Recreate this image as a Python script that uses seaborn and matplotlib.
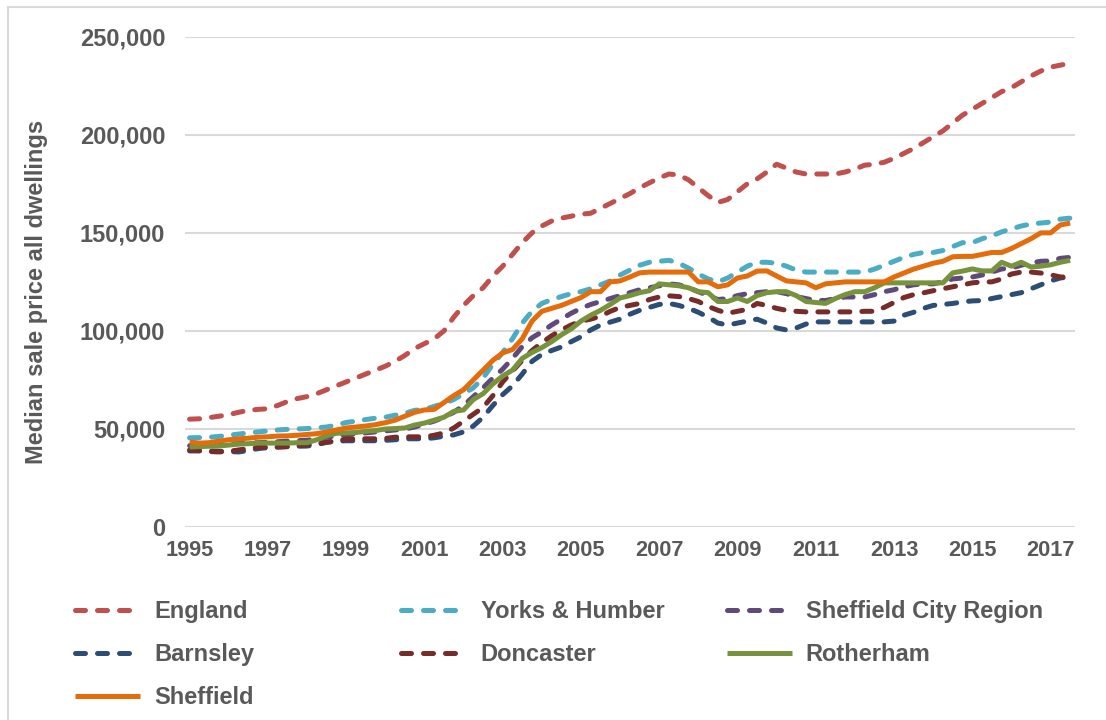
import numpy as np
import pandas as pd
import matplotlib
matplotlib.use("Agg")
import matplotlib.pyplot as plt
from matplotlib.patches import Rectangle
import seaborn as sns

# quarterly median prices (GBP thousands), 1995 Q1 .. 2017 Q3
england = [55.0, 55.2, 55.8, 56.5, 57.3, 58.5, 59.5, 60.0, 60.3, 62.0, 64.0, 65.5,
           66.5, 68.0, 70.0, 72.0, 74.0, 76.0, 78.0, 80.0, 82.0, 84.5, 87.5, 91.0,
           93.5, 96.0, 100.0, 107.0, 113.0, 118.0, 122.0, 128.0, 133.0, 139.0, 145.0, 150.0,
           153.5, 156.0, 157.5, 158.5, 159.5, 160.0, 162.5, 165.0, 167.5, 170.0, 173.0, 175.5,
           178.0, 180.0, 179.5, 177.0, 173.0, 169.0, 165.5, 167.0, 171.0, 175.0, 177.5, 181.0,
           185.0, 183.0, 181.0, 180.0, 180.0, 180.0, 180.0, 181.0, 182.5, 184.5, 185.0, 186.0,
           188.0, 190.5, 193.0, 196.0, 199.0, 202.0, 206.0, 210.0, 213.0, 216.0, 219.0, 222.0,
           224.0, 227.0, 230.0, 232.5, 234.5, 235.5, 236.5]
yorks = [45.5, 45.6, 45.8, 46.2, 46.8, 47.4, 48.0, 48.5, 49.0, 49.5, 49.8, 50.0,
         50.2, 50.6, 51.0, 52.0, 53.3, 54.0, 54.8, 55.5, 56.0, 57.0, 58.0, 59.5,
         60.0, 61.5, 63.0, 65.0, 68.0, 71.0, 76.0, 83.0, 89.0, 96.0, 104.0, 110.0,
         114.0, 116.0, 117.5, 119.0, 120.0, 121.5, 123.5, 125.5, 128.5, 131.0, 133.5, 135.0,
         135.5, 136.0, 134.5, 132.0, 129.0, 126.5, 125.0, 127.0, 130.0, 133.0, 135.0, 135.0,
         134.5, 133.0, 131.0, 130.0, 130.0, 130.0, 130.0, 130.0, 130.0, 130.0, 131.5, 133.5,
         135.5, 137.5, 139.0, 140.0, 140.0, 141.0, 143.0, 145.0, 145.0, 147.0, 148.5, 150.5,
         152.0, 153.5, 154.5, 155.0, 155.5, 157.0, 157.5]
scr = [41.5, 41.5, 41.8, 42.0, 42.3, 42.5, 42.8, 43.0, 43.2, 43.5, 43.8, 44.0,
       44.3, 45.0, 45.8, 46.5, 47.0, 47.5, 48.0, 48.5, 49.0, 49.5, 50.0, 51.0,
       52.5, 54.0, 56.0, 58.5, 62.0, 66.5, 71.0, 76.0, 80.5, 86.0, 92.0, 96.5,
       99.5, 103.0, 106.0, 109.0, 111.5, 113.5, 115.0, 116.5, 118.0, 119.5, 121.0, 122.0,
       123.0, 124.0, 123.5, 122.0, 120.0, 118.0, 116.0, 116.5, 118.0, 119.0, 119.5, 120.0,
       120.0, 119.0, 117.5, 116.5, 115.5, 115.5, 116.5, 117.3, 117.3, 117.3, 118.5, 120.0,
       121.0, 122.5, 123.5, 124.0, 124.0, 125.0, 126.5, 127.0, 127.5, 128.5, 130.0, 131.6,
       132.0, 133.5, 134.7, 135.5, 135.7, 137.0, 137.5]
barnsley = [38.8, 38.8, 38.8, 38.6, 38.5, 38.3, 39.0, 40.0, 40.5, 40.8, 41.0, 41.2,
            41.3, 42.0, 43.2, 43.8, 44.0, 44.0, 44.0, 44.0, 44.2, 44.5, 45.0, 45.0,
            45.0, 45.5, 46.3, 47.0, 48.5, 51.5, 56.0, 62.0, 67.5, 72.0, 78.0, 84.5,
            88.0, 90.0, 91.8, 94.5, 97.0, 100.5, 103.0, 104.5, 106.0, 108.5, 110.5, 112.0,
            113.5, 114.0, 113.0, 111.5, 109.5, 107.0, 104.0, 103.0, 104.0, 105.0, 106.0, 104.0,
            101.5, 100.5, 101.5, 103.5, 104.6, 104.6, 104.6, 104.6, 104.6, 104.6, 104.6, 104.6,
            105.0, 108.0, 109.5, 111.5, 113.0, 113.5, 114.0, 114.8, 115.3, 115.5, 116.5, 117.5,
            118.5, 119.5, 121.5, 123.5, 125.5, 127.0, 127.5]
doncaster = [39.3, 39.0, 38.5, 38.3, 38.6, 39.3, 40.0, 40.6, 40.8, 40.8, 41.0, 41.5,
             42.0, 42.6, 43.2, 44.0, 44.8, 45.0, 45.0, 45.0, 45.2, 45.8, 46.0, 46.0,
             46.0, 46.8, 48.0, 50.5, 54.0, 57.5, 61.0, 67.0, 74.0, 79.5, 85.0, 90.0,
             94.0, 97.5, 100.5, 103.0, 105.0, 106.0, 107.5, 110.0, 112.0, 113.0, 114.0, 116.0,
             117.3, 117.9, 117.5, 116.5, 115.0, 112.5, 110.5, 109.0, 110.0, 111.0, 114.0, 113.0,
             111.5, 110.5, 110.0, 109.7, 109.7, 109.7, 109.7, 109.7, 109.7, 110.0, 110.0, 112.0,
             114.5, 117.0, 118.5, 119.4, 120.5, 121.5, 122.5, 123.5, 124.5, 125.0, 125.0, 126.5,
             129.0, 130.0, 130.0, 129.5, 128.6, 127.5, 127.5]
rotherham = [40.8, 41.0, 41.2, 41.3, 41.8, 42.3, 42.5, 42.8, 42.8, 42.8, 42.8, 43.0,
             43.0, 44.5, 46.5, 47.8, 48.0, 48.2, 48.8, 49.2, 50.0, 50.2, 50.5, 52.0,
             53.0, 54.5, 56.0, 59.0, 59.7, 65.0, 68.0, 73.0, 77.0, 80.0, 86.0, 89.0,
             91.5, 94.5, 98.0, 101.0, 105.0, 108.0, 110.5, 113.5, 116.8, 118.0, 119.5, 120.5,
             124.0, 123.5, 123.0, 122.0, 120.0, 119.5, 115.0, 115.0, 116.8, 115.0, 118.0, 119.5,
             120.0, 120.0, 118.0, 115.0, 114.5, 114.0, 116.5, 118.5, 120.0, 120.0, 122.0, 124.5,
             124.5, 124.5, 124.5, 124.5, 124.5, 124.5, 129.6, 130.5, 131.6, 130.6, 130.6, 135.0,
             133.0, 135.0, 132.6, 133.0, 133.7, 135.0, 136.0]
sheffield = [43.4, 42.8, 43.0, 43.8, 44.5, 45.0, 45.3, 45.8, 46.0, 46.4, 46.5, 46.8,
             47.2, 47.6, 48.5, 49.5, 50.5, 51.0, 51.5, 52.2, 53.2, 54.5, 56.5, 58.5,
             59.7, 60.0, 63.5, 67.0, 70.0, 75.0, 80.0, 85.0, 88.8, 90.5, 96.0, 105.0,
             110.0, 111.5, 113.0, 115.0, 117.0, 120.0, 120.0, 125.0, 125.5, 127.5, 129.6, 130.0,
             130.0, 130.0, 130.0, 130.0, 125.0, 125.0, 122.5, 123.5, 127.0, 128.0, 130.5, 130.6,
             128.0, 125.5, 125.0, 124.5, 122.0, 124.0, 124.5, 125.0, 125.0, 125.0, 125.0, 125.0,
             127.5, 129.5, 131.5, 133.0, 134.5, 135.5, 137.8, 138.0, 138.0, 139.0, 140.0, 140.0,
             142.0, 144.5, 147.0, 150.0, 150.0, 154.0, 155.0]

series = {
    "England": england,
    "Yorks & Humber": yorks,
    "Sheffield City Region": scr,
    "Barnsley": barnsley,
    "Doncaster": doncaster,
    "Rotherham": rotherham,
    "Sheffield": sheffield,
}
colors = {
    "England": "#C0504D",
    "Yorks & Humber": "#4BACC6",
    "Sheffield City Region": "#604A7B",
    "Barnsley": "#2C4D75",
    "Doncaster": "#772C2A",
    "Rotherham": "#77933C",
    "Sheffield": "#E46C0A",
}
solid = ["Rotherham", "Sheffield"]
year_ticks = list(range(1995, 2018, 2))

n = len(england)
x = 1995 + np.arange(n) / 4

sns.set_theme(style="white")
plt.rcParams["font.family"] = ["Liberation Sans", "DejaVu Sans"]
grey = "#595959"

fig = plt.figure(figsize=(11.06, 7.2), dpi=100)
ax = fig.add_axes([0.167, 0.268, 0.805, 0.681])

for name, vals in series.items():
    df = pd.DataFrame({"x": x, "y": np.array(vals) * 1000})
    if name in solid:
        ls = "-"
    else:
        ls = (0, (2.0, 2.4))
    sns.lineplot(data=df, x="x", y="y", ax=ax, color=colors[name], lw=3.6,
                 linestyle=ls, dash_capstyle="round", solid_capstyle="butt",
                 label=name)

ax.set_xlim(1995 - 0.125, 1995 + (n - 1) / 4 + 0.125)
ax.set_ylim(0, 250000)
ax.set_yticks(range(0, 250001, 50000))
ax.yaxis.set_major_formatter(matplotlib.ticker.FuncFormatter(lambda v, p: f"{int(v):,}"))
ax.set_xticks(year_ticks)
ax.set_xticklabels([str(y) for y in year_ticks])
ax.grid(axis="y", color="#D9D9D9", lw=1.5)
ax.grid(axis="x", visible=False)
ax.set_axisbelow(True)
for s in ax.spines.values():
    s.set_visible(False)
ax.tick_params(axis="y", length=0, pad=14, labelsize=17, labelcolor=grey)
ax.tick_params(axis="x", length=0, pad=9, labelsize=15.7, labelcolor=grey)
for lab in ax.get_xticklabels() + ax.get_yticklabels():
    lab.set_fontweight("bold")
ax.set_xlabel("")
ax.set_ylabel("Median sale price all dwellings", fontsize=17, fontweight="bold",
              color=grey)
ax.yaxis.set_label_coords(-0.154, 0.48)

# legend: three evenly spaced columns, filled row by row like the original
handles, labels = ax.get_legend_handles_labels()
ax.get_legend().remove()
hmap = dict(zip(labels, handles))
columns = [["England", "Barnsley", "Sheffield"],
           ["Yorks & Humber", "Doncaster"],
           ["Sheffield City Region", "Rotherham"]]
col_x = [0.068, 0.363, 0.657]
for cx, names in zip(col_x, columns):
    leg = fig.legend([hmap[k] for k in names], names, loc="upper left",
                     bbox_to_anchor=(cx, 0.1665), frameon=False, fontsize=17,
                     handlelength=2.75, handletextpad=0.6, labelspacing=0.85,
                     borderpad=0, borderaxespad=0)
    for t in leg.get_texts():
        t.set_color(grey)
        t.set_fontweight("bold")

fig.patches.append(Rectangle((0.0072, -0.05), 1.2, 1.04, transform=fig.transFigure,
                             fill=False, edgecolor="#D9D9D9", lw=1.5))

fig.savefig("out.png", dpi=100)
